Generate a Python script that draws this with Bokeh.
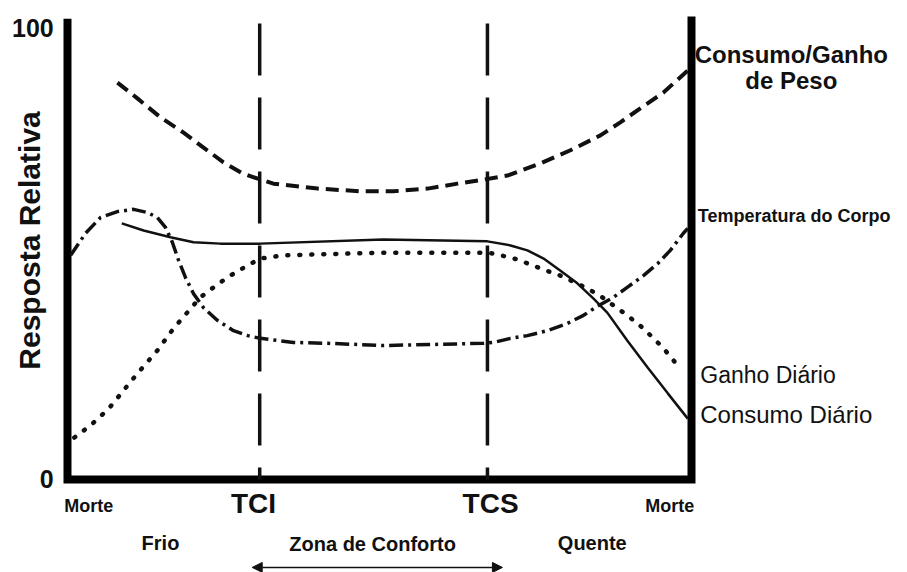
from bokeh.plotting import figure
from bokeh.models import Range1d, Arrow, NormalHead
from bokeh.core.properties import value
from bokeh.embed import file_html
from bokeh.resources import INLINE

# ---------------- data (relative temperature 0-100, relative response 0-100) ----------------
TCI = 30.8
TCS = 67.3

peso_x = [8.0, 11.2, 14.9, 18.6, 21.8, 25.0, 28.0, 30.5, 33.0, 40.1, 47.0, 52.2, 57.7,
          62.5, 66.7, 70.5, 75.8, 80.6, 85.4, 88.6, 91.8, 95.5, 99.4]
peso_y = [88.0, 84.5, 80.3, 76.9, 73.6, 70.3, 67.9, 66.7, 65.6, 64.5, 63.9, 63.9, 64.5,
          65.6, 66.5, 67.4, 70.1, 73.0, 76.3, 79.2, 82.3, 85.8, 90.7]

consumo_x = [8.7, 12.2, 16.5, 20.2, 24.5, 30.9, 50.6, 67.3, 71.0, 73.7, 76.3, 79.0,
             81.7, 84.3, 86.5, 89.7, 93.0, 96.2, 99.4]
consumo_y = [56.8, 55.2, 53.7, 52.6, 52.3, 52.3, 53.2, 52.8, 51.9, 50.8, 49.0, 46.3,
             43.5, 40.1, 37.0, 30.8, 24.8, 19.1, 13.5]

ganho_x = [1.1, 3.7, 6.6, 11.2, 14.4, 17.0, 21.3, 23.4, 25.6, 28.9, 30.9, 34.6, 50.6,
           66.7, 68.3, 72.1, 75.8, 79.0, 83.3, 85.7, 89.7, 92.3, 95.5, 98.2]
ganho_y = [9.3, 12.0, 15.7, 23.5, 28.6, 33.5, 40.4, 42.6, 44.8, 47.5, 49.0, 49.7, 50.3,
           50.3, 50.1, 48.8, 46.8, 45.2, 42.4, 40.4, 36.4, 33.5, 29.1, 24.6]

temp_x = [0.5, 2.9, 5.3, 8.0, 10.6, 12.8, 14.4, 15.7, 16.8, 17.8, 18.9, 20.2, 21.8,
          24.0, 26.6, 28.9, 30.9, 36.2, 41.7, 50.6, 66.7, 68.3, 71.0, 73.7, 76.9,
          80.1, 82.7, 84.9, 87.5, 89.7, 92.3, 94.6, 96.6, 98.7, 99.4]
temp_y = [49.7, 54.6, 58.1, 59.4, 59.9, 59.2, 58.1, 55.9, 52.6, 48.6, 44.8, 41.2, 38.1,
          35.3, 33.0, 31.9, 31.3, 30.4, 30.2, 29.7, 30.2, 30.4, 31.3, 31.9, 33.0,
          34.6, 36.4, 38.4, 40.4, 42.6, 45.2, 47.9, 50.8, 54.6, 55.7]

y_tick_labels = ["0", "100"]
x_tick_labels = ["Morte", "TCI", "TCS", "Morte"]
zone_labels = ["Frio", "Zona de Conforto", "Quente"]

# ---------------- figure ----------------
W, H = 907, 572
p = figure(width=W, height=H, output_backend="svg", toolbar_location=None,
           x_range=Range1d(-10.737, 134.615), y_range=Range1d(-20.621, 106.208),
           min_border=0)
p.axis.visible = False
p.grid.visible = False
p.outline_line_color = None
p.background_fill_color = "white"
p.border_fill_color = "white"

FONT = value("Liberation Sans")
INK = "#111111"

# axes frame (left, bottom, right)
p.line([0, 0, 100, 100], [101.3, 0, 0, 101.8], line_width=8, line_color="black",
       line_cap="square", line_join="miter")

# comfort zone limits
for xv in (TCI, TCS):
    p.line([xv, xv], [101.1, 0], line_width=3.5, line_color=INK, line_dash="52 22")

# curves
p.line(peso_x, peso_y, line_width=4, line_color=INK, line_dash="13 7")
p.line(consumo_x, consumo_y, line_width=2.5, line_color=INK)
p.line(ganho_x, ganho_y, line_width=4.5, line_color=INK, line_dash="1 11", line_cap="round")
p.line(temp_x, temp_y, line_width=3.5, line_color=INK, line_dash="14 5 3 5")

# y tick labels
p.text(x=[-2.2, -2.2], y=[0, 100], text=y_tick_labels, text_font=FONT,
       text_font_size="25px", text_font_style="bold", text_align="right",
       text_baseline="middle", text_color=INK)

# y axis title
p.text(x=[-6.1], y=[53.0], text=["Resposta Relativa"], angle=1.5708, text_font=FONT,
       text_font_size="30px", text_font_style="bold", text_align="center",
       text_baseline="middle", text_color=INK)

# x labels
p.text(x=[3.4, 96.5], y=[-5.8, -5.8], text=[x_tick_labels[0], x_tick_labels[3]],
       text_font=FONT, text_font_size="18px", text_font_style="bold",
       text_align="center", text_baseline="middle", text_color=INK)
p.text(x=[29.8, 67.8], y=[-5.3, -5.3], text=[x_tick_labels[1], x_tick_labels[2]],
       text_font=FONT, text_font_size="28px", text_font_style="bold",
       text_align="center", text_baseline="middle", text_color=INK)
p.text(x=[14.9, 48.9, 84.1], y=[-14.0, -14.2, -14.0], text=zone_labels,
       text_font=FONT, text_font_size="20px", text_font_style="bold",
       text_align="center", text_baseline="middle", text_color=INK)

# comfort-zone arrow
p.add_layout(Arrow(x_start=TCI - 1.2, y_start=-19.5, x_end=TCS + 2.4, y_end=-19.5,
                   line_width=1.5, line_color=INK,
                   start=NormalHead(size=10, fill_color=INK, line_color=INK),
                   end=NormalHead(size=10, fill_color=INK, line_color=INK)))

# series labels on the right
p.text(x=[116.0, 116.0], y=[94.2, 88.5], text=["Consumo/Ganho", "de Peso"],
       text_font=FONT, text_font_size="24px", text_font_style="bold",
       text_align="center", text_baseline="middle", text_color=INK)
p.text(x=[101.0], y=[58.5], text=["Temperatura do Corpo"], text_font=FONT,
       text_font_size="18px", text_font_style="bold", text_align="left",
       text_baseline="middle", text_color=INK)
p.text(x=[101.4], y=[23.1], text=["Ganho Diário"], text_font=FONT,
       text_font_size="23px", text_align="left", text_baseline="middle", text_color=INK)
p.text(x=[101.4], y=[14.4], text=["Consumo Diário"], text_font=FONT,
       text_font_size="24px", text_align="left", text_baseline="middle", text_color=INK)

open("out.html", "w").write(file_html(p, INLINE))
